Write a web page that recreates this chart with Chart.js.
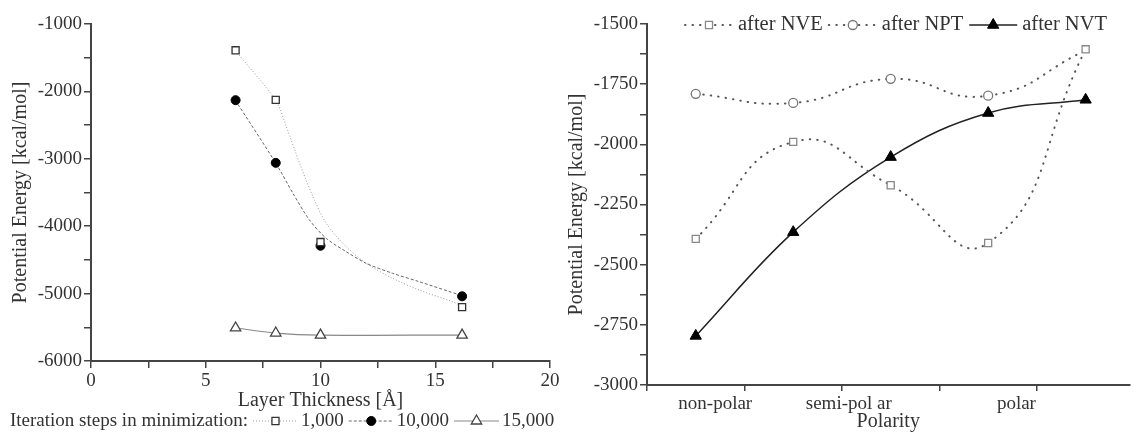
<!DOCTYPE html>
<html>
<head>
<meta charset="utf-8">
<script src="https://cdn.jsdelivr.net/npm/chart.js@4/dist/chart.umd.min.js"></script>
<style>
  body { margin: 0; background: #fff; width: 1137px; height: 434px; position: relative; overflow: hidden; }
  canvas { position: absolute; top: 0; }
  #leftChart { left: 0; }
  #rightChart { left: 565px; }
</style>
</head>
<body>
<canvas id="leftChart" width="565" height="434"></canvas>
<canvas id="rightChart" width="572" height="434"></canvas>
<script>
// left panel: layer thickness vs potential energy
var thickness = [6.3, 8.05, 10.0, 16.17];
var steps1000 = [-1390, -2125, -4235, -5200];
var steps10000 = [-2130, -3060, -4290, -5040];
var steps15000 = [-5510, -5585, -5615, -5615];

// smoothed fit curves (they miss the 10 A point)
var fit1000X = [6.29, 8.04, 8.51, 9.09, 9.67, 10.25, 11.12, 11.99, 13.14, 14.30, 15.75, 16.16];
var fit1000Y = [-1396, -2128, -2524, -3067, -3562, -3957, -4304, -4550, -4773, -4947, -5120, -5185];
var fit10000X = [6.29, 8.04, 8.80, 9.52, 10.25, 11.12, 11.99, 13.14, 14.30, 16.16];
var fit10000Y = [-2132, -3058, -3512, -3908, -4180, -4378, -4550, -4699, -4823, -5031];

// right panel: polarity vs potential energy
var polarityX = [0.5, 1.5, 2.5, 3.5, 4.5];
var polarityLabels = ['non-polar', 'semi-pol ar', 'polar'];
var polarityTickAt = [0.7, 2.07, 3.79];
var afterNVE = [-2393, -1990, -2170, -2410, -1605];
var afterNPT = [-1790, -1828, -1728, -1798, -1610];
var afterNVT = [-2796, -2365, -2053, -1870, -1815];

var FONT = 'Liberation Serif';
var TXT = '#333';
var AXIS = '#444';

function pts(xs, ys) {
  return xs.map(function (x, i) { return { x: x, y: ys[i] }; });
}

// legend with line sample + marker, drawn on the canvas
var lineLegend = {
  id: 'lineLegend',
  afterDraw: function (chart, args, opts) {
    var ctx = chart.ctx;
    ctx.save();
    ctx.font = opts.size + 'px "' + FONT + '"';
    ctx.textBaseline = 'middle';
    ctx.fillStyle = TXT;
    var x = opts.x, y = opts.y;
    if (opts.prefix) {
      ctx.fillText(opts.prefix, x, y);
      x += ctx.measureText(opts.prefix).width + opts.gap;
    }
    chart.data.datasets.forEach(function (ds) {
      if (!ds.label) return;
      ctx.save();
      ctx.strokeStyle = ds.borderColor;
      ctx.lineWidth = ds.borderWidth;
      ctx.lineCap = ds.borderCapStyle || 'butt';
      ctx.setLineDash(ds.borderDash || []);
      ctx.beginPath();
      ctx.moveTo(x, y);
      ctx.lineTo(x + opts.sample, y);
      ctx.stroke();
      ctx.setLineDash([]);
      ctx.lineCap = 'butt';
      ctx.fillStyle = ds.pointBackgroundColor;
      ctx.strokeStyle = ds.pointBorderColor;
      ctx.lineWidth = ds.pointBorderWidth;
      var r = Array.isArray(ds.pointRadius) ? ds.pointRadius[0] : ds.pointRadius;
      Chart.helpers.drawPoint(ctx, { pointStyle: ds.pointStyle, radius: r, rotation: 0, borderWidth: ds.pointBorderWidth }, x + opts.sample / 2, y);
      ctx.restore();
      x += opts.sample + opts.textGap;
      ctx.fillText(ds.label, x, y);
      x += ctx.measureText(ds.label).width + opts.gap;
    });
    ctx.restore();
  }
};

function yAxis(min, max, step, major, width, titlePad) {
  return {
    type: 'linear', min: min, max: max,
    afterFit: function (s) { s.width = width; },
    border: { display: true, color: AXIS, width: 2 },
    grid: { drawOnChartArea: false, drawTicks: true, tickLength: 7, color: AXIS, lineWidth: 1.5 },
    ticks: {
      stepSize: step, padding: 2, color: TXT,
      font: { family: FONT, size: 19 },
      callback: function (v) { return v % major === 0 ? v : ''; }
    },
    title: { display: true, text: 'Potential Energy [kcal/mol]', color: TXT, font: { family: FONT, size: 20 }, padding: { top: titlePad, bottom: 0 } }
  };
}

function printLeft() {
  var ctx = document.getElementById('leftChart').getContext('2d');
  new Chart(ctx, {
    type: 'line',
    data: {
      datasets: [{
        label: '1,000',
        data: pts(thickness, steps1000),
        showLine: false,
        borderColor: '#999', borderWidth: 1, borderDash: [1, 2],
        pointStyle: 'rect', pointRadius: 5, pointBackgroundColor: '#fff', pointBorderColor: '#333', pointBorderWidth: 1.3
      }, {
        label: '10,000',
        data: pts(thickness, steps10000),
        showLine: false,
        borderColor: '#666', borderWidth: 1, borderDash: [3, 2],
        pointStyle: 'circle', pointRadius: 4.5, pointBackgroundColor: '#000', pointBorderColor: '#000', pointBorderWidth: 1
      }, {
        label: '15,000',
        data: pts(thickness, steps15000),
        borderColor: '#888', borderWidth: 1.2,
        pointStyle: 'triangle', pointRadius: 6, pointBackgroundColor: '#fff', pointBorderColor: '#444', pointBorderWidth: 1.3,
        tension: 0.4
      }, {
        label: '',
        data: pts(fit1000X, fit1000Y),
        borderColor: '#999', borderWidth: 1, borderDash: [1, 2],
        pointRadius: 0, tension: 0.3
      }, {
        label: '',
        data: pts(fit10000X, fit10000Y),
        borderColor: '#666', borderWidth: 1, borderDash: [3, 2],
        pointRadius: 0, tension: 0.3
      }]
    },
    options: {
      responsive: false,
      animation: false,
      layout: { padding: { left: 0, right: 15, top: 24, bottom: 0 } },
      scales: {
        x: {
          type: 'linear', min: 0, max: 20,
          afterFit: function (s) { s.height = 73; },
          border: { display: true, color: AXIS, width: 2 },
          grid: { drawOnChartArea: false, tickLength: 7, color: AXIS, lineWidth: 1.5 },
          ticks: {
            stepSize: 2.5, padding: 2, color: TXT, maxRotation: 0,
            font: { family: FONT, size: 19 },
            callback: function (v) { return v % 5 === 0 ? v : ''; }
          },
          title: { display: true, text: 'Layer Thickness [Å]', color: TXT, font: { family: FONT, size: 20 }, padding: { top: 0, bottom: 21 } }
        },
        y: yAxis(-6000, -1000, 500, 1000, 91, 9)
      },
      plugins: {
        legend: { display: false },
        tooltip: { enabled: false },
        lineLegend: { x: 10, y: 421, size: 19, prefix: 'Iteration steps in minimization:', gap: 5, sample: 45, textGap: 3 }
      }
    },
    plugins: [lineLegend]
  });
}

function printRight() {
  var ctx = document.getElementById('rightChart').getContext('2d');
  var xTicks = [0, 1, 2, 3, 4].concat(polarityTickAt).sort(function (a, b) { return a - b; });
  new Chart(ctx, {
    type: 'line',
    data: {
      datasets: [{
        label: 'after NVE',
        data: pts(polarityX, afterNVE),
        borderColor: '#555', borderWidth: 2, borderDash: [0.5, 7], borderCapStyle: 'round',
        pointStyle: 'rect', pointRadius: 5, pointBackgroundColor: '#fff', pointBorderColor: '#888', pointBorderWidth: 1.3,
        tension: 0.5
      }, {
        label: 'after NPT',
        data: pts(polarityX, afterNPT),
        borderColor: '#555', borderWidth: 2, borderDash: [0.5, 7], borderCapStyle: 'round',
        pointStyle: 'circle', pointRadius: [4.5, 4.5, 4.5, 4.5, 0], pointBackgroundColor: '#fff', pointBorderColor: '#777', pointBorderWidth: 1.3,
        tension: 0.5
      }, {
        label: 'after NVT',
        data: pts(polarityX, afterNVT),
        borderColor: '#222', borderWidth: 1.5,
        pointStyle: 'triangle', pointRadius: 6.5, pointBackgroundColor: '#000', pointBorderColor: '#000', pointBorderWidth: 1,
        tension: 0.4
      }]
    },
    options: {
      responsive: false,
      animation: false,
      layout: { padding: { left: 0, right: 0, top: 24, bottom: 0 } },
      scales: {
        x: {
          type: 'linear', min: 0, max: 4.95,
          afterFit: function (s) { s.height = 49; },
          afterBuildTicks: function (s) { s.ticks = xTicks.map(function (v) { return { value: v }; }); },
          border: { display: true, color: AXIS, width: 2 },
          grid: {
            drawOnChartArea: false, tickLength: 6, lineWidth: 1.5,
            color: function (c) { return c.tick && Number.isInteger(c.tick.value) ? AXIS : 'rgba(0,0,0,0)'; }
          },
          ticks: {
            autoSkip: false, padding: 2, color: TXT, maxRotation: 0,
            font: { family: FONT, size: 19 },
            callback: function (v) { var i = polarityTickAt.indexOf(v); return i >= 0 ? polarityLabels[i] : ''; }
          },
          title: { display: true, text: 'Polarity', color: TXT, font: { family: FONT, size: 20 }, padding: { top: 0, bottom: 0 } }
        },
        y: yAxis(-3000, -1500, 125, 250, 82, 0)
      },
      plugins: {
        legend: { display: false },
        tooltip: { enabled: false },
        lineLegend: { x: 120, y: 25, size: 20.5, gap: 6, sample: 48, textGap: 5 }
      }
    },
    plugins: [lineLegend]
  });
}

function init() {
  printLeft();
  printRight();
}

init();
</script>
</body>
</html>
